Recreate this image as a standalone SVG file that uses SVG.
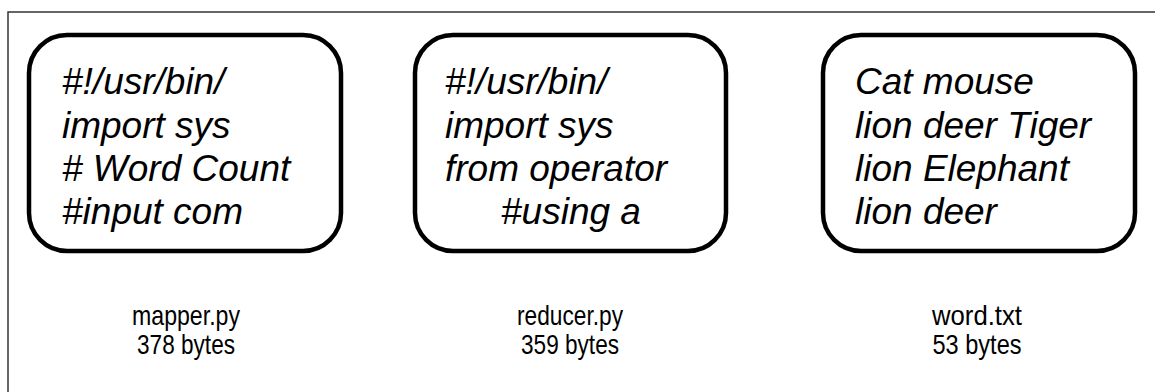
<svg xmlns="http://www.w3.org/2000/svg" width="1155" height="392" viewBox="0 0 1155 392">
  <style>
    .file { fill: #ffffff; stroke: #000000; stroke-width: 4.5; }
    .content { font-family: "Liberation Sans", Arial, sans-serif; font-style: italic; font-size: 37px; fill: #000000; }
    .label { font-family: "Liberation Sans", Arial, sans-serif; font-size: 28px; fill: #000000; text-anchor: middle; }
  </style>
  <rect x="0" y="0" width="1155" height="392" fill="#ffffff"/>
  <!-- outer frame -->
  <rect x="8" y="12" width="1160" height="400" fill="none" stroke="#333333" stroke-width="1.5"/>

  <g id="mapper">
    <rect class="file" x="29" y="35" width="312" height="216" rx="38" ry="38"/>
    <text class="content" x="62" y="94">#!/usr/bin/</text>
    <text class="content" x="62" y="138">import sys</text>
    <text class="content" x="62" y="181"># Word Count</text>
    <text class="content" x="62" y="224">#input com</text>
    <text class="label" x="186" y="325" textLength="108" lengthAdjust="spacingAndGlyphs">mapper.py</text>
    <text class="label" x="186" y="354" textLength="98" lengthAdjust="spacingAndGlyphs">378 bytes</text>
  </g>

  <g id="reducer">
    <rect class="file" x="415" y="35" width="311" height="216" rx="38" ry="38"/>
    <text class="content" x="445" y="94">#!/usr/bin/</text>
    <text class="content" x="445" y="138">import sys</text>
    <text class="content" x="445" y="181">from operator</text>
    <text class="content" x="501" y="224">#using a</text>
    <text class="label" x="570" y="325" textLength="106" lengthAdjust="spacingAndGlyphs">reducer.py</text>
    <text class="label" x="570" y="354" textLength="98" lengthAdjust="spacingAndGlyphs">359 bytes</text>
  </g>

  <g id="word">
    <rect class="file" x="823" y="35" width="312" height="216" rx="38" ry="38"/>
    <text class="content" x="855" y="94">Cat mouse</text>
    <text class="content" x="855" y="138">lion deer Tiger</text>
    <text class="content" x="855" y="181">lion Elephant</text>
    <text class="content" x="855" y="224">lion deer</text>
    <text class="label" x="977" y="325" textLength="90" lengthAdjust="spacingAndGlyphs">word.txt</text>
    <text class="label" x="977" y="354" textLength="89" lengthAdjust="spacingAndGlyphs">53 bytes</text>
  </g>

  <g id="connectors"></g>
</svg>
